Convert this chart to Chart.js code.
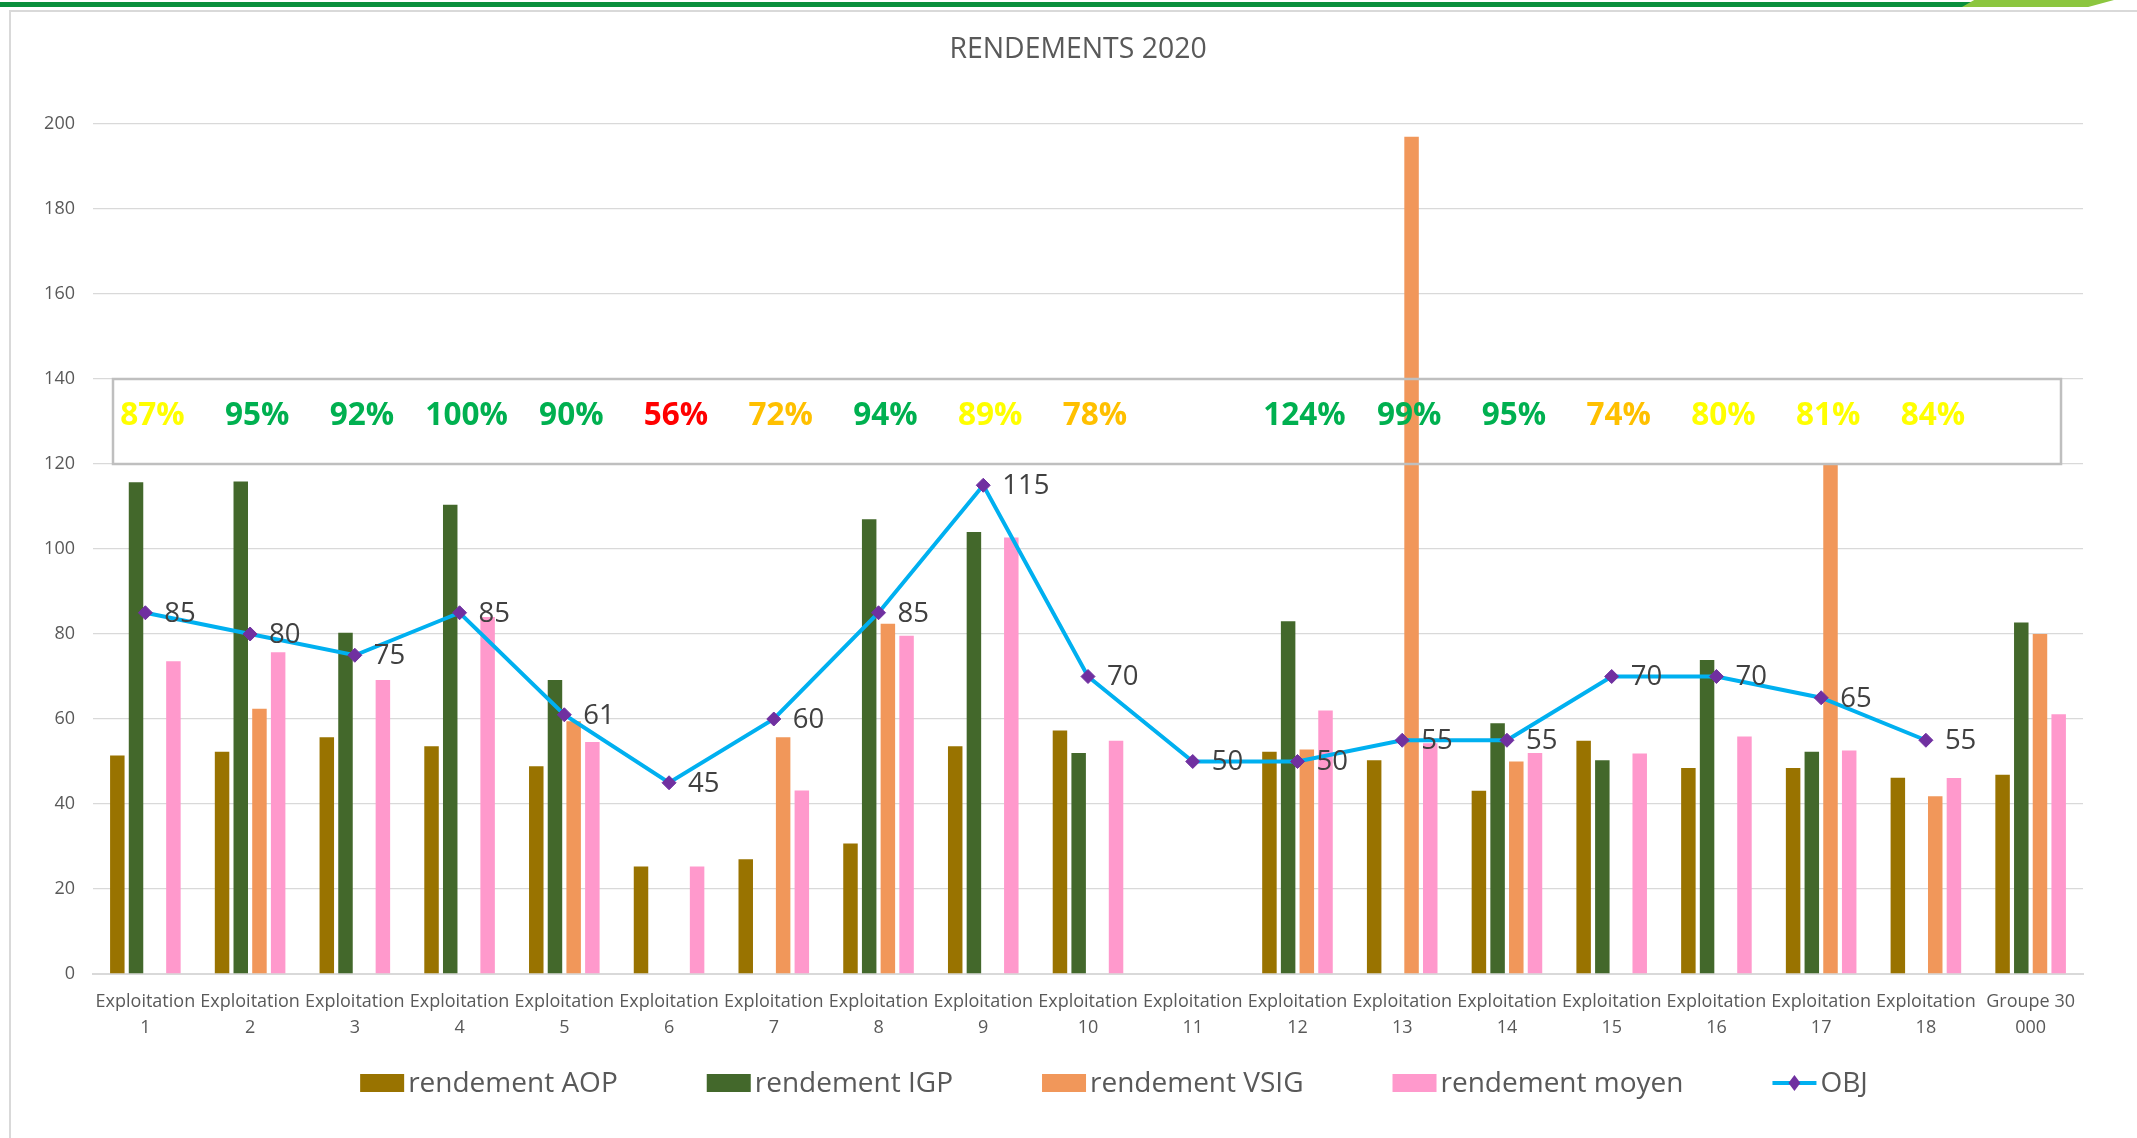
<!DOCTYPE html>
<html><head><meta charset="utf-8">
<script src="https://cdn.jsdelivr.net/npm/chart.js@4.4.0/dist/chart.umd.min.js"></script>
<style>
html,body{margin:0;padding:0;background:#fff;width:2137px;height:1138px;overflow:hidden;}
#frame{position:absolute;left:9px;top:10px;width:2200px;height:1200px;border:2px solid #D9D9D9;}
#gbar{position:absolute;left:0;top:2px;width:1976px;height:5px;background:#0A8F3C;}
#lbar{position:absolute;left:1962px;top:0;width:152px;height:7px;background:#8CC63F;clip-path:polygon(8% 0,100% 0,83% 100%,0 100%);}
canvas{position:absolute;left:0;top:0;}
</style></head>
<body>
<div id="frame"></div>
<div id="gbar"></div>
<div id="lbar"></div>
<canvas id="c" width="2137" height="1138"></canvas>
<script>
const categories = [["Exploitation","1"],["Exploitation","2"],["Exploitation","3"],["Exploitation","4"],["Exploitation","5"],["Exploitation","6"],["Exploitation","7"],["Exploitation","8"],["Exploitation","9"],["Exploitation","10"],["Exploitation","11"],["Exploitation","12"],["Exploitation","13"],["Exploitation","14"],["Exploitation","15"],["Exploitation","16"],["Exploitation","17"],["Exploitation","18"],["Groupe 30","000"]];
const rendementAOP   = [51.4,52.3,55.7,53.6,48.9,25.3,27.0,30.7,53.6,57.3,null,52.3,50.3,43.1,54.9,48.5,48.5,46.2,46.9];
const rendementIGP   = [115.7,115.9,80.3,110.4,69.2,null,null,107.0,104.0,52.0,null,83.0,null,59.0,50.3,73.9,52.3,null,82.7];
const rendementVSIG  = [null,62.4,null,null,59.5,null,55.7,82.4,null,null,null,52.8,197.0,50.0,null,null,120.0,41.8,80.0];
const rendementMoyen = [73.6,75.7,69.2,84.0,54.6,25.3,43.2,79.6,102.7,54.9,null,62.0,54.3,52.0,51.9,55.9,52.6,46.1,61.1];
const objectif       = [85,80,75,85,61,45,60,85,115,70,50,50,55,55,70,70,65,55,null];
const pourcentages   = [87,95,92,100,90,56,72,94,89,78,null,124,99,95,74,80,81,84,null];
const yTicks = [0,20,40,60,80,100,120,140,160,180,200];
const seriesNames = ["rendement AOP","rendement IGP","rendement VSIG","rendement moyen","OBJ"];

const COLORS = {aop:'#997300', igp:'#43682B', vsig:'#F1975A', moy:'#FF99CC', line:'#00B0F0', mark:'#7030A0'};
const FONT = '"Open Sans", "DejaVu Sans", sans-serif';

function pctColor(v){ if(v>=90) return '#00B050'; if(v>=80) return '#FFFF00'; if(v>=60) return '#FFC000'; return '#FF0000'; }

const overlay = {
  id:'overlay',
  afterDatasetsDraw(chart){
    const ctx=chart.ctx, xs=chart.scales.x, ys=chart.scales.y, a=chart.chartArea;
    ctx.save();
    // OBJ labels
    const meta=chart.getDatasetMeta(4);
    ctx.font='27.5px '+FONT; ctx.fillStyle='#404040'; ctx.textAlign='left'; ctx.textBaseline='middle';
    meta.data.forEach((pt,i)=>{ if(objectif[i]==null) return; ctx.fillText(String(objectif[i]), pt.x+19, pt.y+1); });
    // percent box
    const top=ys.getPixelForValue(140), bot=ys.getPixelForValue(120);
    const l=a.left+20, r=a.right-22;
    ctx.strokeStyle='#BFBFBF'; ctx.lineWidth=2.5;
    ctx.strokeRect(l, top, r-l, bot-top);
    ctx.font='bold 31.5px '+FONT; ctx.textAlign='center'; ctx.textBaseline='middle';
    pourcentages.forEach((v,i)=>{ if(v==null) return; ctx.fillStyle=pctColor(v); ctx.fillText(v+'%', xs.getPixelForValue(i)+7, ys.getPixelForValue(131.4)); });
    ctx.restore();
  },
  afterDraw(chart){
    const ctx=chart.ctx;
    ctx.save();
    ctx.font='28.4px '+FONT; ctx.fillStyle='#595959'; ctx.textAlign='center'; ctx.textBaseline='middle';
    ctx.fillText('RENDEMENTS 2020', 1078, 50);
    // legend
    ctx.font='28px '+FONT; ctx.textBaseline='middle'; ctx.textAlign='left';
    const cy=1083, bw=44, bh=18, gap1=4, gap2=89;
    const fills=[COLORS.aop,COLORS.igp,COLORS.vsig,COLORS.moy];
    let total=0;
    seriesNames.forEach((n,i)=>{ total+=bw+gap1+ctx.measureText(n).width+(i<seriesNames.length-1?gap2:0); });
    let x=1114-total/2;
    seriesNames.forEach((n,i)=>{
      if(i<4){ ctx.fillStyle=fills[i]; ctx.fillRect(x, cy-bh/2, bw, bh); }
      else {
        ctx.strokeStyle=COLORS.line; ctx.lineWidth=4; ctx.beginPath(); ctx.moveTo(x,cy); ctx.lineTo(x+bw,cy); ctx.stroke();
        ctx.fillStyle=COLORS.mark; ctx.beginPath(); const mx=x+bw/2;
        ctx.moveTo(mx,cy-8); ctx.lineTo(mx+6,cy); ctx.lineTo(mx,cy+8); ctx.lineTo(mx-6,cy); ctx.closePath(); ctx.fill();
      }
      ctx.fillStyle='#595959'; ctx.fillText(n, x+bw+gap1, cy+1);
      x+=bw+gap1+ctx.measureText(n).width+gap2;
    });
    ctx.restore();
  }
};

const barCommon = {type:'bar', categoryPercentage:0.714, barPercentage:0.775, order:1};
new Chart(document.getElementById('c'), {
  data:{
    labels:categories,
    datasets:[
      Object.assign({label:seriesNames[0], data:rendementAOP, backgroundColor:COLORS.aop}, barCommon),
      Object.assign({label:seriesNames[1], data:rendementIGP, backgroundColor:COLORS.igp}, barCommon),
      Object.assign({label:seriesNames[2], data:rendementVSIG, backgroundColor:COLORS.vsig}, barCommon),
      Object.assign({label:seriesNames[3], data:rendementMoyen, backgroundColor:COLORS.moy}, barCommon),
      {type:'line', label:seriesNames[4], data:objectif, order:0, borderColor:COLORS.line, borderWidth:4,
       pointStyle:'rectRot', pointRadius:7, pointBackgroundColor:COLORS.mark, pointBorderColor:COLORS.mark, pointBorderWidth:1, tension:0, spanGaps:false}
    ]
  },
  options:{
    responsive:false, animation:false, devicePixelRatio:1,
    layout:{padding:{top:124,right:54,bottom:84,left:0}},
    plugins:{legend:{display:false}, title:{display:false}, tooltip:{enabled:false}},
    scales:{
      x:{ grid:{display:false, drawTicks:false}, border:{color:'#D9D9D9', width:2},
          ticks:{color:'#595959', font:{family:FONT, size:18, lineHeight:1.45}, padding:15, maxRotation:0, autoSkip:false},
          afterFit(s){ s.height=80; } },
      y:{ min:0, max:200, afterBuildTicks(s){ s.ticks=yTicks.map(v=>({value:v})); },
          grid:{color:'#D9D9D9', lineWidth:1.3, drawTicks:false}, border:{display:false},
          ticks:{color:'#595959', font:{family:FONT, size:18}, padding:18},
          afterFit(s){ s.width=93; } }
    }
  },
  plugins:[overlay]
});
</script>
</body></html>
